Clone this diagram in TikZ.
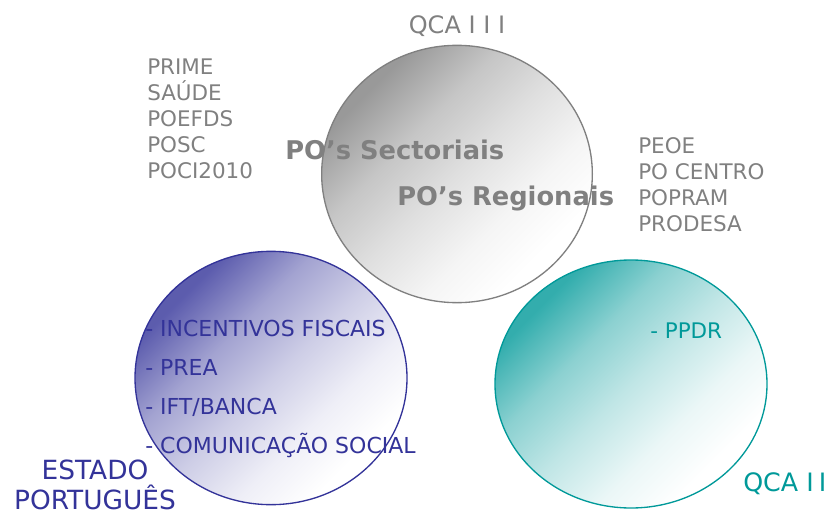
\documentclass[tikz,border=0pt]{standalone}
\usepackage{fontspec}
\setmainfont{DejaVu Sans}
\usetikzlibrary{shapes.geometric}
\usetikzlibrary{positioning}

\definecolor{qcagray}{HTML}{808080}
\definecolor{qcablue}{HTML}{333399}
\definecolor{qcateal}{HTML}{009999}
\colorlet{bolhaA}{qcagray}
\colorlet{bolhaB}{qcagray}
\colorlet{bolhaC}{qcagray}
\colorlet{bolhaD}{qcagray}

\pgfdeclarehorizontalshading[bolhaA,bolhaB,bolhaC,bolhaD]{bolha}{100bp}{%
  color(0bp)=(bolhaA); color(27bp)=(bolhaA); color(39bp)=(bolhaB);
  color(50bp)=(bolhaC); color(62bp)=(bolhaD); color(72bp)=(white);
  color(100bp)=(white)}

\tikzset{
  bubble/.style={ellipse, draw=#1, line width=1pt,
    /utils/exec={\colorlet{bolhaA}{#1!80}\colorlet{bolhaB}{#1!45}%
      \colorlet{bolhaC}{#1!25}\colorlet{bolhaD}{#1!8}},
    shading=bolha, shading angle=-45, inner sep=0pt},
  lista/.style={align=left, inner sep=0pt, anchor=west},
}

\begin{document}
\begin{tikzpicture}[x=0.75pt, y=-0.75pt]
          \useasboundingbox (0,0) rectangle (832,514);
          % os tres circulos
          \node[bubble=qcagray, minimum width=203pt, minimum height=193pt] (qca3) at (457,174) {};
          \node[bubble=qcablue, minimum width=204pt, minimum height=190pt] (estado) at (271,378) {};
          \node[bubble=qcateal, minimum width=204pt, minimum height=186pt] (qca2) at (631,384) {};

          % titulos
          \node[text=qcagray, font=\fontsize{18}{20}\selectfont] (t3) at (457,26) {QCA I\kern.32em I\kern.32em I};
          \node[text=qcateal, font=\fontsize{19}{21}\selectfont, anchor=west, inner sep=0pt] (t2) at (743,484) {QCA I\kern.2em I};
          \node[text=qcablue, font=\fontsize{19.8}{22.5}\selectfont, align=center] (te) at (95,485) {ESTADO\\PORTUGUÊS};

          % PO's
          \node[text=qcagray, font=\bfseries\fontsize{19.3}{21}\selectfont, anchor=west, inner sep=0pt] (sect) at (285,150) {PO’s Sectoriais};
          \node[text=qcagray, font=\bfseries\fontsize{19.3}{21}\selectfont, anchor=west, inner sep=0pt] (reg) at (397,198) {PO’s Regionais};

          % listas
          \node[lista, text=qcagray, font=\fontsize{16.1}{19.5}\selectfont] (sectlist) at (147,119)
            {PRIME\\SAÚDE\\POEFDS\\POSC\\POCI2010};
          \node[lista, text=qcagray, font=\fontsize{16.1}{19.5}\selectfont] (reglist) at (638,185)
            {PEOE\\PO CENTRO\\POPRAM\\PRODESA};
          \node[lista, text=qcablue, font=\fontsize{16.5}{29.2}\selectfont] (estlist) at (145,389)
            {- INCENTIVOS FISCAIS\\- PREA\\- IFT/BANCA\\- COMUNICAÇÃO SOCIAL};
          \node[lista, text=qcateal, font=\fontsize{16.1}{19.5}\selectfont] (ppdr) at (650,331) {- PPDR};
        \end{tikzpicture}
\end{document}
